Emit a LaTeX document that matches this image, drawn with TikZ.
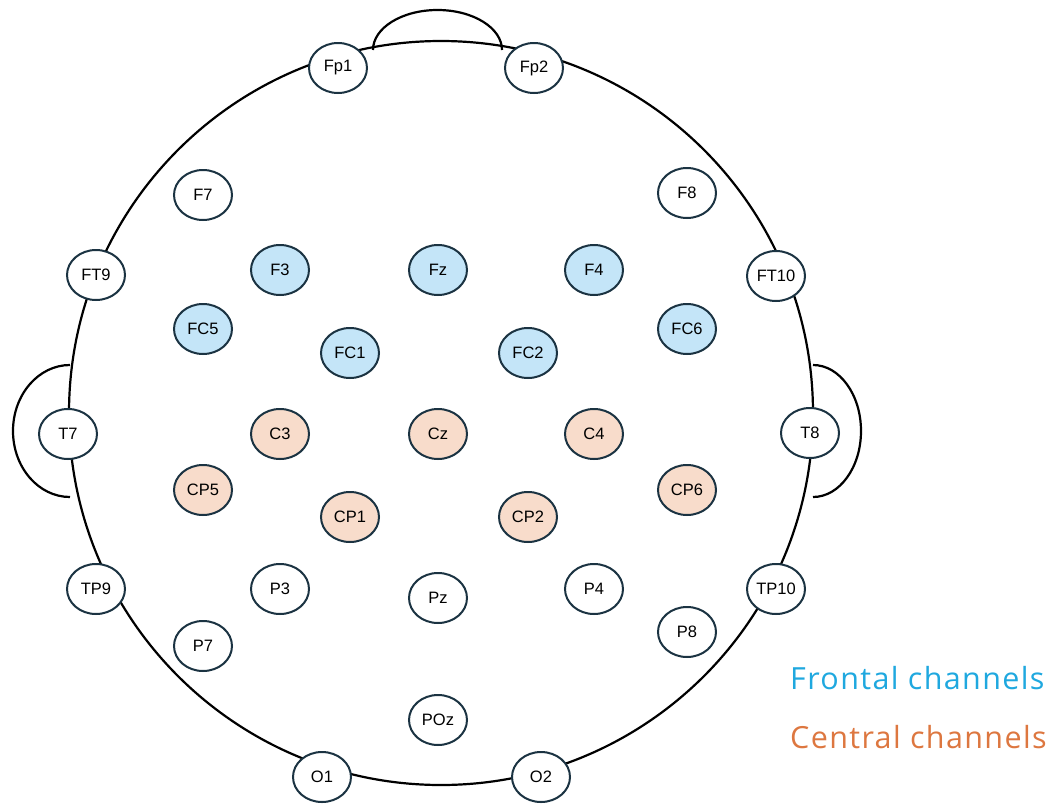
\documentclass[tikz,border=0pt]{standalone}
\usepackage{fontspec}
\setmainfont{Liberation Sans}
\newfontfamily\legendfont[LetterSpace=4.5]{Open Sans}
\usetikzlibrary{shapes.geometric}
\definecolor{rim}{HTML}{1B3342}
\definecolor{frontfill}{HTML}{C4E5F8}
\definecolor{centfill}{HTML}{F8DCCB}
\definecolor{frontink}{HTML}{1FA8DF}
\definecolor{centink}{HTML}{DD7740}
\tikzset{
  electrode/.style={ellipse, draw=rim, line width=2pt, fill=white,
    minimum width=58pt, minimum height=50pt, inner sep=0pt,
    font=\fontsize{16.5}{16.5}\selectfont},
  frontal/.style={electrode, fill=frontfill},
  central/.style={electrode, fill=centfill},
  outline/.style={line width=2.2pt, black},
  legend/.style={font=\legendfont\fontsize{30.5}{30.5}\selectfont, anchor=west, inner sep=0pt}
}
\begin{document}
\begin{tikzpicture}[x=1pt,y=-1pt]
\useasboundingbox (0,0) rectangle (1058,809);
% head, nose and ears
\draw[outline] (441,413) circle[radius=372];
\draw[outline] (373,50) arc[start angle=180,end angle=360,x radius=64.5,y radius=40];
\draw[outline] (70,365) arc[start angle=270,end angle=90,x radius=57,y radius=66];
\draw[outline] (813,365) arc[start angle=-90,end angle=90,x radius=48,y radius=66];
% rim electrodes
\node[electrode] (Fp1) at (338,68) {Fp1};
\node[electrode] (Fp2) at (534,68) {Fp2};
\node[electrode] (FT9) at (96,275) {FT9};
\node[electrode] (FT10) at (776,276) {FT10};
\node[electrode] (T7) at (68,434) {T7};
\node[electrode] (T8) at (810,433) {T8};
\node[electrode] (TP9) at (96,589) {TP9};
\node[electrode] (TP10) at (776,589) {TP10};
\node[electrode] (O1) at (322,777) {O1};
\node[electrode] (O2) at (541,777) {O2};
% inner electrodes
\node[electrode] (F7) at (203,195) {F7};
\node[electrode] (F8) at (687,193) {F8};
\node[frontal] (F3) at (280,270) {F3};
\node[frontal] (Fz) at (438,270) {Fz};
\node[frontal] (F4) at (594,270) {F4};
\node[frontal] (FC5) at (203,329) {FC5};
\node[frontal] (FC1) at (350,353) {FC1};
\node[frontal] (FC2) at (528,353) {FC2};
\node[frontal] (FC6) at (687,329) {FC6};
\node[central] (C3) at (280,434) {C3};
\node[central] (Cz) at (438,434) {Cz};
\node[central] (C4) at (594,434) {C4};
\node[central] (CP5) at (203,490) {CP5};
\node[central] (CP1) at (350,517) {CP1};
\node[central] (CP2) at (528,517) {CP2};
\node[central] (CP6) at (687,490) {CP6};
\node[electrode] (P3) at (280,589) {P3};
\node[electrode] (Pz) at (438,598) {Pz};
\node[electrode] (P4) at (594,589) {P4};
\node[electrode] (P7) at (203,646) {P7};
\node[electrode] (P8) at (687,632) {P8};
\node[electrode] (POz) at (438,720) {POz};
% legend
\node[legend, text=frontink] (lgF) at (790,678) {Frontal channels};
\node[legend, text=centink] (lgC) at (790,737) {Central channels};
\end{tikzpicture}
\end{document}
